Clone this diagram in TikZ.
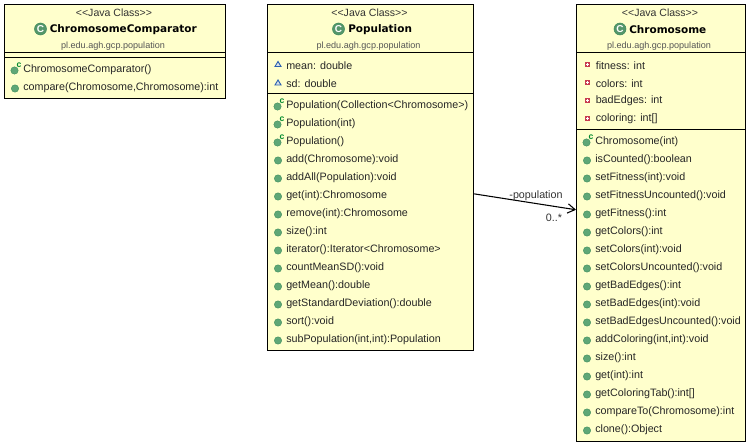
\documentclass[tikz,border=0pt]{standalone}
\usepackage{fontspec}
\setmainfont{Liberation Sans}
\newfontfamily\boldnamefont{DejaVu Sans Bold}
\usetikzlibrary{arrows.meta}
\definecolor{umlfill}{HTML}{FFFFCC}
\definecolor{icongreen}{HTML}{5FA777}
\definecolor{iconedge}{HTML}{3C8C5A}
\definecolor{ctorgreen}{HTML}{008A2E}
\definecolor{protblue}{HTML}{2A5FB0}
\definecolor{privred}{HTML}{C83C50}
\definecolor{pkggrey}{HTML}{555555}
\tikzset{
  x=0.75pt,y=-0.75pt,
  classbox/.style={draw=black,fill=umlfill,line width=0.9pt,rectangle,inner sep=0pt,anchor=north west},
  sepline/.style={draw=black,line width=0.75pt},
  stereo/.style={font=\fontsize{7.9pt}{9pt}\selectfont,text=black!80,inner sep=0pt},
  pkg/.style={font=\fontsize{6.8pt}{8pt}\selectfont,text=pkggrey,inner sep=0pt},
  cname/.style={font=\fontsize{7.85pt}{9pt}\boldnamefont,text=black,inner sep=0pt,anchor=west},
  rowtext/.style={font=\fontsize{8.05pt}{9pt}\selectfont,text=black!85,inner sep=0pt,anchor=west},
  assoc/.style={draw=black,line width=0.8pt,-{Straight Barb[length=5.5pt,width=7pt,line width=0.8pt]}},
  assoclabel/.style={font=\fontsize{8.05pt}{9pt}\selectfont,text=black!80,inner sep=0pt},
}
\newcommand{\methodrow}[3]{%
  \fill[icongreen,draw=iconedge,line width=0.3pt] (#1,#2+1.5) circle[radius=3.7];
  \node[rowtext] at (#1+8,#2+1.2) {#3};}
\newcommand{\ctorrow}[3]{%
  \fill[icongreen,draw=iconedge,line width=0.3pt] (#1-0.5,#2+1.5) circle[radius=3.7];
  \node[font=\fontsize{6.5pt}{7pt}\bfseries\selectfont,text=ctorgreen,inner sep=0pt] at (#1+4,#2-4) {c};
  \node[rowtext] at (#1+8,#2+1.2) {#3};}
\newcommand{\protrow}[3]{%
  \draw[protblue,fill=umlfill!50!protblue!35,line width=0.7pt] (#1-3,#2+2.5) -- (#1+3,#2+2.5) -- (#1,#2-2.5) -- cycle;
  \node[rowtext] at (#1+8,#2+1.2) {#3};}
\newcommand{\privrow}[3]{%
  \fill[privred] (#1-2.5,#2-2) rectangle (#1+2.5,#2+3);
  \draw[white,line width=0.6pt] (#1-1.3,#2+0.5) -- (#1+1.3,#2+0.5) (#1,#2-0.8) -- (#1,#2+1.8);
  \node[rowtext] at (#1+8,#2+1.2) {#3};}
\newcommand{\classicon}[2]{%
  \fill[icongreen!90!black,draw=iconedge,line width=0.4pt] (#1,#2) circle[radius=6];
  \node[font=\fontsize{7.5pt}{8pt}\bfseries\selectfont,text=white,inner sep=0pt] at (#1,#2) {C};}
\begin{document}
\begin{tikzpicture}
\useasboundingbox (0,0) rectangle (749,445);
\fill[white] (0,0) rectangle (749,445);

% ChromosomeComparator
\node[classbox,minimum width=221*0.75pt,minimum height=94*0.75pt] (cmp) at (4,4) {};
\node[stereo] (cmpst) at (114,13) {<{}<Java Class>{}>};
\classicon{40.5}{29}
\node[cname] (cmpnm) at (49.5,30) {ChromosomeComparator};
\node[pkg] (cmppk) at (113,46) {pl.edu.agh.gcp.population};
\draw[sepline] (4,53) -- (225,53);
\draw[sepline] (4,58) -- (225,58);
\ctorrow{15}{69}{ChromosomeComparator()}
\methodrow{15}{87}{compare(Chromosome,Chromosome):int}

% Population
\node[classbox,minimum width=206*0.75pt,minimum height=346*0.75pt] (pop) at (267,4) {};
\node[stereo] (popst) at (369.5,13) {<{}<Java Class>{}>};
\classicon{338.5}{29}
\node[cname] (popnm) at (348,30) {Population};
\node[pkg] (poppk) at (368.5,46) {pl.edu.agh.gcp.population};
\draw[sepline] (267,53) -- (473,53);
\draw[sepline] (267,94) -- (473,94);
\protrow{278}{64}{mean: double}
\protrow{278}{82.5}{sd: double}
\ctorrow{278}{105}{Population(Collection<Chromosome>)}
\ctorrow{278}{123}{Population(int)}
\ctorrow{278}{141}{Population()}
\methodrow{278}{159}{add(Chromosome):void}
\methodrow{278}{177}{addAll(Population):void}
\methodrow{278}{195}{get(int):Chromosome}
\methodrow{278}{213}{remove(int):Chromosome}
\methodrow{278}{231}{size():int}
\methodrow{278}{249}{iterator():Iterator<Chromosome>}
\methodrow{278}{267}{countMeanSD():void}
\methodrow{278}{285}{getMean():double}
\methodrow{278}{303}{getStandardDeviation():double}
\methodrow{278}{321}{sort():void}
\methodrow{278}{339}{subPopulation(int,int):Population}

% Chromosome
\node[classbox,minimum width=169*0.75pt,minimum height=437*0.75pt] (chr) at (576,4) {};
\node[stereo] (chrst) at (660,13) {<{}<Java Class>{}>};
\classicon{620}{29}
\node[cname] (chrnm) at (629,30) {Chromosome};
\node[pkg] (chrpk) at (659,46) {pl.edu.agh.gcp.population};
\draw[sepline] (576,53) -- (745,53);
\draw[sepline] (576,130) -- (745,130);
\privrow{587.5}{64}{fitness: int}
\privrow{587.5}{82}{colors: int}
\privrow{587.5}{100}{badEdges: int}
\privrow{587.5}{118}{coloring: int[]}
\ctorrow{587}{141}{Chromosome(int)}
\methodrow{587}{159}{isCounted():boolean}
\methodrow{587}{177}{setFitness(int):void}
\methodrow{587}{195}{setFitnessUncounted():void}
\methodrow{587}{213}{getFitness():int}
\methodrow{587}{231}{getColors():int}
\methodrow{587}{249}{setColors(int):void}
\methodrow{587}{267}{setColorsUncounted():void}
\methodrow{587}{285}{getBadEdges():int}
\methodrow{587}{303}{setBadEdges(int):void}
\methodrow{587}{321}{setBadEdgesUncounted():void}
\methodrow{587}{339}{addColoring(int,int):void}
\methodrow{587}{357}{size():int}
\methodrow{587}{375}{get(int):int}
\methodrow{587}{393}{getColoringTab():int[]}
\methodrow{587}{411}{compareTo(Chromosome):int}
\methodrow{587}{429}{clone():Object}

% Association
\draw[assoc] ([yshift=-12.2pt]pop.east) -- ([yshift=10pt]chr.west);
\node[assoclabel] (lblrole) at (536,196) {-population};
\node[assoclabel] (lblmult) at (554,218) {0..*};
\end{tikzpicture}
\end{document}
